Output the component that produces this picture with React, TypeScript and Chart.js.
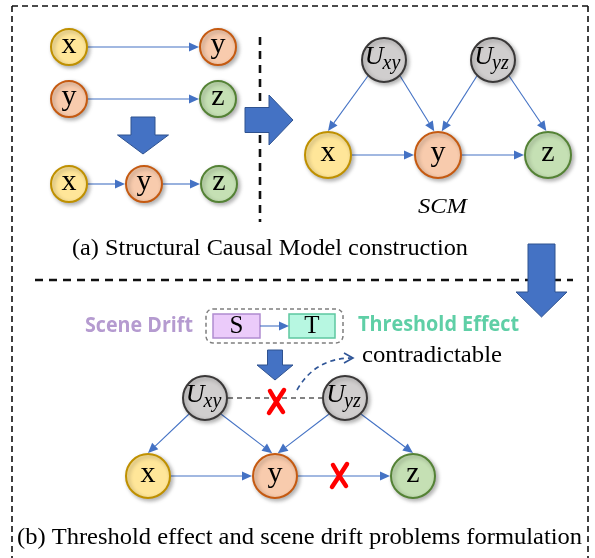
import React, { useEffect, useRef } from "react";
import { Chart, registerables } from "chart.js";
Chart.register(...registerables);

// ---- graph nodes (value space = diagram units) ----
const nodeKinds = ["x","y","y","z","x","y","z","u","u","x","y","z","u","u","x","y","z"];
const nodeLabels = ["x","y","y","z","x","y","z","U|xy","U|yz","x","y","z","U|xy","U|yz","x","y","z"];
const nodeX = [69,218,69,218,69,144,219,384,493,328,438,548,205,345,148,275,413];
const nodeY = [47,47,99,99,184,184,184,60,60,155,155,155,398,398,476,476,476];
const nodeR = [19,19,19,19,19,19,19,23,23,24,24,24,23,23,23,23,23];

// ---- edges: from node, to node, anchor angles (deg), style ----
const edgeFrom = [0,2,4,5, 7,7,8,8,9,10, 12,12,13,13,14,15, 12];
const edgeTo   = [1,3,5,6, 9,10,10,11,10,11, 14,15,15,16,15,16, 13];
const edgeFromAng = [0,0,0,0, 135,45,135,45,0,0, 135,45,135,45,0,0, 0];
const edgeToAng   = [180,180,180,180, 270,261,279,266,180,180, 270,263,277,270,180,180, 180];
const edgeStyle = ["arrow","arrow","arrow","arrow","arrow","arrow","arrow","arrow","arrow","arrow","arrow","arrow","arrow","arrow","arrow","arrow","dashed"];

// ---- red crosses ----
const crossX = [277, 340];
const crossY = [402, 476];

// ---- block arrows: start centre -> tip ----
const blockX1 = [143, 245, 541.5, 275];
const blockY1 = [117, 120, 244, 350];
const blockX2 = [143, 293, 541.5, 275];
const blockY2 = [154, 120, 317, 380];
const blockShaft = [24, 25, 27, 15];
const blockHead = [51, 50, 51, 36];
const blockHeadLen = [19, 24, 25, 15];

// ---- dashed guide lines ----
const guideX1 = [12, 12, 588, 260, 35];
const guideY1 = [6, 6, 6, 37, 280];
const guideX2 = [588, 12, 588, 260, 573];
const guideY2 = [6, 558, 558, 222, 280];
const guideKind = ["thin","thin","thin","thick","thick"];

// ---- texts ----
const textStrings = ["(a) Structural Causal Model construction","(b) Threshold effect and scene drift problems formulation","SCM","Scene Drift","Threshold Effect","contradictable","S","T"];
const textLeft = [72, 17, 418, 85, 358, 362, 213, 289];
const textWidth = [396, 565, 49, 108, 161, 140, 0, 0];
const textY = [249, 538, 207, 326, 325, 356, 326, 326];
const textKind = ["caption","caption","scm","drift","thresh","plain","box","box"];

const kindFill: Record<string,string> = { x: "#FFE699", y: "#F8CBAD", z: "#C5E0B4", u: "#D0CECE" };
const kindBorder: Record<string,string> = { x: "#BF9000", y: "#C55A11", z: "#548235", u: "#3A3838" };

export default function App() {
  const ref = useRef<HTMLCanvasElement | null>(null);
  useEffect(() => {
    if (!ref.current) return;
    const kinds = ["x","y","z","u"];
    const datasets = kinds.map((k) => {
      const idx = nodeKinds.map((kk, i) => (kk === k ? i : -1)).filter((i) => i >= 0);
      return {
        label: k,
        data: idx.map((i) => ({ x: nodeX[i], y: nodeY[i] })),
        pointRadius: idx.map((i) => nodeR[i] - 1),
        pointHoverRadius: idx.map((i) => nodeR[i] - 1),
        pointStyle: "circle" as const,
        backgroundColor: kindFill[k],
        borderColor: kindBorder[k],
        pointBorderWidth: 2,
        showLine: false,
        clip: false as any,
      };
    });

    const diagram = {
      id: "diagram",
      beforeDatasetsDraw(chart: any) {
        const ctx: CanvasRenderingContext2D = chart.ctx;
        const sx = chart.scales.x, sy = chart.scales.y;
        const px = (v: number) => sx.getPixelForValue(v);
        const py = (v: number) => sy.getPixelForValue(v);
        ctx.save();
        // guide dashed lines
        for (let i = 0; i < guideX1.length; i++) {
          ctx.beginPath();
          ctx.strokeStyle = "#111";
          if (guideKind[i] === "thin") { ctx.lineWidth = 1.6; ctx.setLineDash([6, 4]); }
          else { ctx.lineWidth = 2.6; ctx.setLineDash([8, 6]); }
          ctx.moveTo(px(guideX1[i]), py(guideY1[i]));
          ctx.lineTo(px(guideX2[i]), py(guideY2[i]));
          ctx.stroke();
        }
        ctx.setLineDash([]);
        // block arrows
        for (let i = 0; i < blockX1.length; i++) {
          const x1 = px(blockX1[i]), y1 = py(blockY1[i]), x2 = px(blockX2[i]), y2 = py(blockY2[i]);
          const dx = x2 - x1, dy = y2 - y1, L = Math.hypot(dx, dy);
          const ux = dx / L, uy = dy / L, nx = -uy, ny = ux;
          const s = blockShaft[i] / 2, h = blockHead[i] / 2, hl = blockHeadLen[i];
          const bx = x2 - ux * hl, by = y2 - uy * hl;
          ctx.beginPath();
          ctx.moveTo(x1 + nx * s, y1 + ny * s);
          ctx.lineTo(bx + nx * s, by + ny * s);
          ctx.lineTo(bx + nx * h, by + ny * h);
          ctx.lineTo(x2, y2);
          ctx.lineTo(bx - nx * h, by - ny * h);
          ctx.lineTo(bx - nx * s, by - ny * s);
          ctx.lineTo(x1 - nx * s, y1 - ny * s);
          ctx.closePath();
          ctx.fillStyle = "#4472C4";
          ctx.fill();
          ctx.strokeStyle = "#2F528F";
          ctx.lineWidth = 1;
          ctx.stroke();
        }
        // edges
        for (let e = 0; e < edgeFrom.length; e++) {
          const a = edgeFrom[e], b = edgeTo[e];
          const aa = (edgeFromAng[e] * Math.PI) / 180, ab = (edgeToAng[e] * Math.PI) / 180;
          const x1 = px(nodeX[a]) + nodeR[a] * Math.cos(aa), y1 = py(nodeY[a]) + nodeR[a] * Math.sin(aa);
          const x2 = px(nodeX[b]) + nodeR[b] * Math.cos(ab), y2 = py(nodeY[b]) + nodeR[b] * Math.sin(ab);
          if (edgeStyle[e] === "dashed") {
            ctx.beginPath();
            ctx.setLineDash([5, 4]);
            ctx.strokeStyle = "#595959";
            ctx.lineWidth = 1.5;
            ctx.moveTo(x1, y1); ctx.lineTo(x2, y2); ctx.stroke();
            ctx.setLineDash([]);
            continue;
          }
          const dx = x2 - x1, dy = y2 - y1, L = Math.hypot(dx, dy);
          const ux = dx / L, uy = dy / L;
          const hl = 10, hw = 4.5;
          ctx.beginPath();
          ctx.strokeStyle = "#4472C4";
          ctx.lineWidth = 1.1;
          ctx.moveTo(x1, y1);
          ctx.lineTo(x2 - ux * hl, y2 - uy * hl);
          ctx.stroke();
          ctx.beginPath();
          ctx.moveTo(x2, y2);
          ctx.lineTo(x2 - ux * hl - uy * hw, y2 - uy * hl + ux * hw);
          ctx.lineTo(x2 - ux * hl + uy * hw, y2 - uy * hl - ux * hw);
          ctx.closePath();
          ctx.fillStyle = "#4472C4";
          ctx.fill();
        }
        // S / T group
        ctx.beginPath();
        ctx.setLineDash([4, 3]);
        ctx.strokeStyle = "#7F7F7F";
        ctx.lineWidth = 1.5;
        (ctx as any).roundRect(px(206), py(309), px(343) - px(206), py(343) - py(309), 7);
        ctx.stroke();
        ctx.setLineDash([]);
        ctx.fillStyle = "#EBCBFA"; ctx.strokeStyle = "#B08CD0"; ctx.lineWidth = 1.5;
        ctx.fillRect(px(213), py(314), 47, 24); ctx.strokeRect(px(213), py(314), 47, 24);
        ctx.fillStyle = "#B7F7E1"; ctx.strokeStyle = "#5EC7A0";
        ctx.fillRect(px(289), py(314), 46, 24); ctx.strokeRect(px(289), py(314), 46, 24);
        ctx.beginPath();
        ctx.strokeStyle = "#4472C4"; ctx.lineWidth = 1.1;
        ctx.moveTo(px(260), py(326)); ctx.lineTo(px(280), py(326)); ctx.stroke();
        ctx.beginPath();
        ctx.moveTo(px(289), py(326)); ctx.lineTo(px(279), py(321.5)); ctx.lineTo(px(279), py(330.5)); ctx.closePath();
        ctx.fillStyle = "#4472C4"; ctx.fill();
        // curved dashed arrow
        ctx.beginPath();
        ctx.setLineDash([5, 4]);
        ctx.strokeStyle = "#2F5597"; ctx.lineWidth = 1.6;
        ctx.moveTo(px(297), py(390));
        ctx.quadraticCurveTo(px(315), py(358), px(352), py(358));
        ctx.stroke();
        ctx.setLineDash([]);
        ctx.beginPath();
        ctx.moveTo(px(344), py(353)); ctx.lineTo(px(353), py(358)); ctx.lineTo(px(344), py(363));
        ctx.stroke();
        ctx.restore();
      },
      beforeDatasetDraw(chart: any) {
        const ctx = chart.ctx;
        ctx.save();
        ctx.shadowColor = "rgba(0,0,0,0.3)";
        ctx.shadowBlur = 4;
        ctx.shadowOffsetX = 2;
        ctx.shadowOffsetY = 2;
      },
      afterDatasetDraw(chart: any) {
        chart.ctx.restore();
      },
      afterDatasetsDraw(chart: any) {
        const ctx: CanvasRenderingContext2D = chart.ctx;
        const sx = chart.scales.x, sy = chart.scales.y;
        const px = (v: number) => sx.getPixelForValue(v);
        const py = (v: number) => sy.getPixelForValue(v);
        ctx.save();
        ctx.textBaseline = "middle";
        ctx.textAlign = "center";
        ctx.fillStyle = "#000";
        // node labels
        for (let i = 0; i < nodeLabels.length; i++) {
          const lab = nodeLabels[i];
          const cx = px(nodeX[i]), cy = py(nodeY[i]);
          if (lab.includes("|")) {
            const [main, sub] = lab.split("|");
            ctx.font = "italic 26px 'Liberation Serif'";
            const w1 = ctx.measureText(main).width;
            ctx.font = "italic 20px 'Liberation Serif'";
            const w2 = ctx.measureText(sub).width;
            const left = cx - (w1 + w2) / 2 - 1;
            ctx.textAlign = "left";
            ctx.font = "italic 26px 'Liberation Serif'";
            ctx.fillText(main, left, cy - 3);
            ctx.font = "italic 20px 'Liberation Serif'";
            ctx.fillText(sub, left + w1 - 1, cy + 4);
            ctx.textAlign = "center";
          } else {
            ctx.font = "30px 'Liberation Serif'";
            ctx.fillText(lab, cx, cy - 2);
          }
        }
        // texts
        for (let i = 0; i < textStrings.length; i++) {
          const k = textKind[i];
          let font = "24px 'Liberation Serif'";
          let color = "#000";
          if (k === "scm") font = "italic 22px 'Liberation Serif'";
          if (k === "drift") { font = "bold 21px 'Open Sans'"; color = "#B59BD0"; }
          if (k === "thresh") { font = "bold 21px 'Open Sans'"; color = "#5FCFA6"; }
          if (k === "plain") font = "23px 'Liberation Serif'";
          if (k === "box") font = "25px 'Liberation Serif'";
          ctx.font = font;
          ctx.fillStyle = color;
          if (k === "box") {
            const center = textStrings[i] === "S" ? 236.5 : 312;
            ctx.fillText(textStrings[i], px(center), py(textY[i]));
            continue;
          }
          const w = ctx.measureText(textStrings[i]).width;
          const s = textWidth[i] / w;
          ctx.save();
          ctx.translate(px(textLeft[i] + textWidth[i] / 2), py(textY[i]));
          ctx.scale(s, 1);
          ctx.fillText(textStrings[i], 0, 0);
          ctx.restore();
        }
        // red crosses
        ctx.strokeStyle = "#FF0000";
        ctx.lineCap = "round";
        ctx.lineWidth = 4.5;
        for (let i = 0; i < crossX.length; i++) {
          const cx = px(crossX[i]), cy = py(crossY[i]);
          ctx.beginPath();
          ctx.moveTo(cx - 7, cy - 11);
          ctx.quadraticCurveTo(cx - 1, cy, cx + 6, cy + 10);
          ctx.moveTo(cx + 7, cy - 12);
          ctx.quadraticCurveTo(cx, cy - 1, cx - 8, cy + 11);
          ctx.stroke();
        }
        ctx.restore();
      },
    };

    const chart = new Chart(ref.current, {
      type: "scatter",
      data: { datasets: datasets as any },
      options: {
        animation: false,
        responsive: false,
        maintainAspectRatio: false,
        devicePixelRatio: 1,
        events: [],
        layout: { padding: 0, autoPadding: false },
        plugins: { legend: { display: false }, tooltip: { enabled: false } },
        scales: {
          x: { type: "linear", min: 0, max: 595, display: false },
          y: { type: "linear", min: 0, max: 558, reverse: true, display: false },
        },
      },
      plugins: [diagram],
    });
    return () => chart.destroy();
  }, []);
  return (
    <div style={{ position: "absolute", left: 0, top: 0, width: 595, height: 558, background: "#fff" }}>
      <canvas ref={ref} width={595} height={558} style={{ display: "block" }} />
    </div>
  );
}
